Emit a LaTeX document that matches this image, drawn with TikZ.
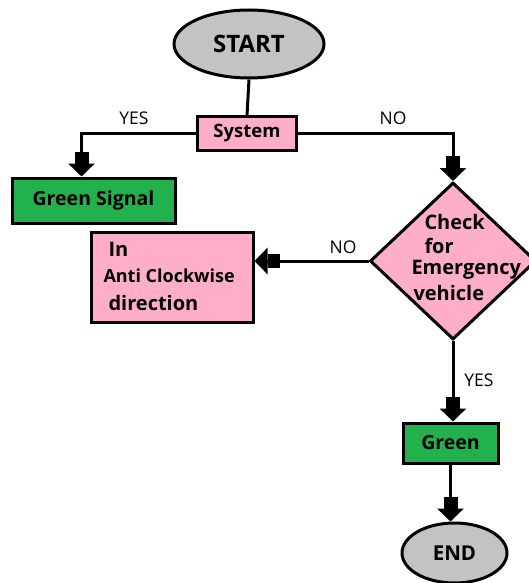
\documentclass[tikz,border=0pt]{standalone}
\usepackage{fontspec}
\setmainfont{Open Sans}
\usetikzlibrary{arrows.meta,shapes.geometric}

\definecolor{flowpink}{HTML}{FFAEC9}
\definecolor{flowgreen}{HTML}{22B14C}
\definecolor{flowgrey}{HTML}{C3C3C3}

\begin{document}
\begin{tikzpicture}[x=1pt,y=1pt,line width=3pt,
  term/.style={draw,ellipse,fill=flowgrey,inner sep=0pt,font=\fontsize{20.5}{24}\selectfont\bfseries},
  pinkbox/.style={draw,rectangle,fill=flowpink,inner sep=0pt,font=\fontsize{18.5}{22}\selectfont\bfseries},
  greenbox/.style={draw,rectangle,fill=flowgreen,inner sep=0pt,font=\fontsize{19.5}{23}\selectfont\bfseries},
  decide/.style={draw,diamond,fill=flowpink,inner sep=0pt},
  txt/.style={anchor=base west,inner sep=0pt,font=\fontsize{20}{24}\selectfont\bfseries},
  lbl/.style={inner sep=0pt,font=\fontsize{17.5}{21}\selectfont},
  blk/.style={-{Rectangle[width=14pt,length=12pt]Triangle[width=26pt,length=13pt]}}]
\useasboundingbox (0,0) rectangle (528,-583);
\tikzstyle{every node}+=[inner sep=0pt]
% nodes
\node [term,minimum width=150,minimum height=68,font=\fontsize{24}{28}\selectfont\bfseries] (start) at (249,-44) {START};
\node [pinkbox,minimum width=99,minimum height=33] (sys) at (247,-133.5) {System};
\node [greenbox,minimum width=163,minimum height=45] (gsig) at (93.5,-200.5) {Green Signal};
\node [decide,minimum width=166,minimum height=157] (check) at (453,-261) {};
\node [txt] (chka) at (423,-229) {Check};
\node [txt] (chkb) at (423,-253) {for};
\node [txt] (chkc) at (410,-274.5) {Emergency};
\node [txt] (chkd) at (412,-300) {vehicle};
\node [pinkbox,minimum width=162,minimum height=90] (anti) at (172,-277) {};
\node [txt] (antia) at (107,-256) {In};
\node [txt,font=\fontsize{18}{22}\selectfont\bfseries] (antib) at (102,-282) {Anti Clockwise};
\node [txt] (antic) at (107,-310) {direction};
\node [greenbox,minimum width=95,minimum height=40] (green) at (450.5,-443) {Green};
\node [term,minimum width=105,minimum height=60] (end) at (454.5,-553) {END};
% labels
\node [lbl] (yesa) at (134,-118) {YES};
\node [lbl] (noa) at (393,-118) {NO};
\node [lbl] (nob) at (343,-247) {NO};
\node [lbl] (yesb) at (479,-380) {YES};
% connectors
\draw (start.south) -- (sys.north);
\draw [blk] (sys.west) -| ([xshift=-12pt]gsig.north);
\draw [blk] (sys.east) -| (check.north);
\draw [blk] (check.west) -- (check.west -| anti.east);
\draw [blk] (check.south) -- (check.south |- green.north);
\draw [blk] (green.south) -- (green.south |- end.north);
\end{tikzpicture}
\end{document}
